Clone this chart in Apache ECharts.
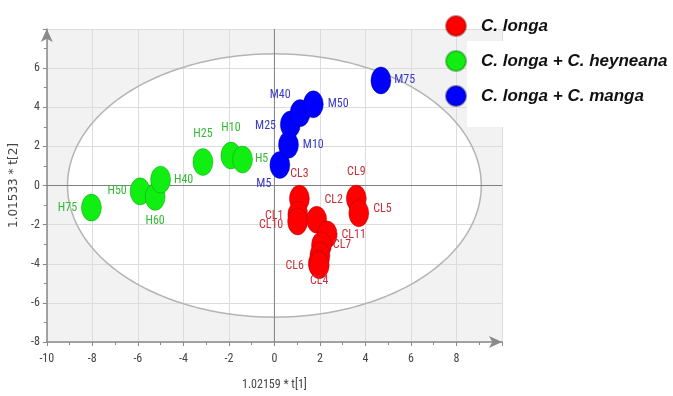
<!DOCTYPE html>
<html><head><meta charset="utf-8">
<script src="https://cdn.jsdelivr.net/npm/echarts@6/dist/echarts.min.js"></script>
<style>html,body{margin:0;padding:0;background:#fff}#c{width:673px;height:396px}</style>
</head><body><div id="c"></div><script>
// ---- data ----
const seriesNames = ['C. longa', 'C. longa + C. heyneana', 'C. longa + C. manga'];

const clNames = ['CL3', 'CL1', 'CL10', 'CL2', 'CL9', 'CL5', 'CL11', 'CL7', 'CL8', 'CL6', 'CL4'];
const clX = [1.10, 1.03, 1.02, 1.86, 3.60, 3.71, 2.32, 2.07, 2.00, 1.93, 1.97];
const clY = [-0.67, -1.50, -1.84, -1.75, -0.67, -1.42, -2.50, -3.05, -3.58, -4.00, -4.08];

const hNames = ['H75', 'H50', 'H60', 'H40', 'H25', 'H10', 'H5'];
const hX = [-8.04, -5.90, -5.24, -5.00, -3.14, -1.91, -1.40];
const hY = [-1.13, -0.30, -0.58, 0.30, 1.20, 1.53, 1.33];

const mNames = ['M5', 'M10', 'M25', 'M40', 'M50', 'M75'];
const mX = [0.24, 0.62, 0.70, 1.13, 1.71, 4.68];
const mY = [1.05, 2.08, 3.12, 3.70, 4.15, 5.37];

const xTickLabels = [-10, -8, -6, -4, -2, 0, 2, 4, 6, 8];
const yTickLabels = [-8, -6, -4, -2, 0, 2, 4, 6];
const ellipseRadii = [9.09, 6.73];   // Hotelling T2 ellipse (t1, t2)

const xAxisTitle = '1.02159 * t[1]';
const yAxisTitle = '1.01533 * t[2]';

// ---- styles ----
const NARROW = '"Roboto Condensed","DejaVu Sans Condensed","Liberation Sans",sans-serif';
const colors = ['#ff0000', '#11ee11', '#0000ff'];
const borderColors = ['rgba(150,0,0,0.45)', 'rgba(0,130,0,0.45)', 'rgba(0,0,120,0.45)'];
const labelColors = ['#c8323c', '#33bb33', '#3a3ac8'];
const labelPlace = {
  H75: {position: 'left'}, H50: {position: 'left', distance: 3}, H60: {position: 'bottom'},
  H40: {position: 'right', distance: 3}, H25: {position: 'top', offset: [0, -4]}, H10: {position: 'top', offset: [0, -4]},
  H5: {position: 'right', distance: 2},
  M5: {position: 'bottom', offset: [-16, -5]}, M10: {position: 'right'}, M25: {position: 'left', offset: [0, 2]},
  M40: {position: 'top', offset: [-20, 6]}, M50: {position: 'right'}, M75: {position: 'right', distance: 3},
  CL3: {position: 'top', offset: [0, -1]}, CL9: {position: 'top', offset: [0, -3]}, CL5: {position: 'right', offset: [0, -4]},
  CL2: {position: 'top', offset: [17, 4]}, CL1: {position: 'left', offset: [0, 1]}, CL10: {position: 'left', offset: [0, 4]},
  CL11: {position: 'right', offset: [0, 1]}, CL7: {position: 'right', offset: [-3, 0]}, CL8: {show: false},
  CL6: {position: 'left', offset: [0, 2]}, CL4: {position: 'bottom', distance: 0, offset: [0, -4]}
};
const ELLIPSE_SYMBOL = 'path://M1,0A1,1,0,1,1,-1,0A1,1,0,1,1,1,0Z';
const MARK_SIZE = [20, 27];

function buildData(names, xs, ys, ci) {
  return names.map((n, i) => ({
    name: n, value: [xs[i], ys[i]],
    label: Object.assign({show: true, formatter: '{b}', color: labelColors[ci], fontSize: 12, fontFamily: NARROW, distance: 4}, labelPlace[n] || {})
  }));
}

const chart = echarts.init(document.getElementById('c'), null, {renderer: 'canvas'});

function ellipsePoints(api) {
  const c = api.coord([0, 0]);
  const rx = api.size([ellipseRadii[0], 0])[0];
  const ry = api.size([0, ellipseRadii[1]])[1];
  const pts = [];
  for (let i = 0; i <= 240; i++) {
    const t = i / 240 * 2 * Math.PI;
    pts.push([c[0] + rx * Math.cos(t), c[1] + ry * Math.sin(t)]);
  }
  return pts;
}

const axisCommon = {
  type: 'value',
  axisLine: {show: true, onZero: false, symbol: ['none', 'arrow'], symbolSize: [9, 13], lineStyle: {color: '#8a8a8a', width: 1.5}},
  axisTick: {show: true, length: 4, lineStyle: {color: '#8a8a8a'}},
  minorTick: {show: true, splitNumber: 2, length: 3, lineStyle: {color: '#8a8a8a'}},
  splitLine: {show: true, lineStyle: {color: '#dcdcdc', width: 1}},
  nameLocation: 'middle'
};

function scatterSeries(k, names, xs, ys) {
  return {name: seriesNames[k], type: 'scatter', z: 2, symbol: ELLIPSE_SYMBOL, symbolSize: MARK_SIZE,
    itemStyle: {color: colors[k], borderColor: borderColors[k], borderWidth: 0.8, opacity: 1},
    data: buildData(names, xs, ys, k)};
}

const option = {
  animation: false,
  backgroundColor: '#ffffff',
  grid: {left: 42, right: 171, top: 29, bottom: 48, containLabel: false},
  xAxis: Object.assign({}, axisCommon, {
    min: xTickLabels[0], max: 10, interval: 2,
    axisLabel: {showMaxLabel: false, color: '#444', fontSize: 12, fontFamily: NARROW, margin: 11,
      formatter: v => xTickLabels.indexOf(v) >= 0 ? String(v) : ''},
    name: xAxisTitle, nameGap: 37,
    nameTextStyle: {color: '#444', fontSize: 12, fontFamily: NARROW}
  }),
  yAxis: Object.assign({}, axisCommon, {
    min: yTickLabels[0], max: 8, interval: 2,
    axisLabel: {showMaxLabel: false, color: '#444', fontSize: 12, fontFamily: NARROW, margin: 7,
      formatter: v => yTickLabels.indexOf(v) >= 0 ? String(v) : ''},
    name: yAxisTitle, nameGap: 21,
    nameTextStyle: {color: '#444', fontSize: 12, fontFamily: '"DejaVu Sans",sans-serif'}
  }),
  legend: {
    data: seriesNames, orient: 'vertical', left: 445, top: 15, padding: 0,
    itemWidth: 20, itemHeight: 24, itemGap: 13,
    textStyle: {fontSize: 17, fontWeight: 'bold', fontStyle: 'italic', color: '#111',
      fontFamily: '"Liberation Sans",Arial,sans-serif', padding: [0, 0, 0, 10]}
  },
  graphic: [{type: 'rect', left: 467, top: 41, shape: {width: 206, height: 86}, style: {fill: '#ffffff'}, z: 3, silent: true}],
  series: [
    {
      type: 'custom', z: -1, silent: true, data: [[0, 0]],
      renderItem: (params, api) => {
        const cs = params.coordSys;
        return {type: 'group', children: [
          {type: 'rect', shape: {x: cs.x, y: cs.y, width: cs.width, height: cs.height}, style: {fill: '#f2f2f2'}},
          {type: 'polygon', shape: {points: ellipsePoints(api)}, style: {fill: '#ffffff'}}
        ]};
      }
    },
    {
      type: 'custom', z: 1, silent: true, data: [[0, 0]],
      renderItem: (params, api) => {
        const cs = params.coordSys;
        const c = api.coord([0, 0]);
        return {type: 'group', children: [
          {type: 'polyline', shape: {points: ellipsePoints(api)}, style: {stroke: '#b4b4b4', lineWidth: 1.5, fill: null}},
          {type: 'line', shape: {x1: cs.x, y1: c[1], x2: cs.x + cs.width, y2: c[1]}, style: {stroke: '#808080', lineWidth: 1}},
          {type: 'line', shape: {x1: c[0], y1: cs.y, x2: c[0], y2: cs.y + cs.height}, style: {stroke: '#808080', lineWidth: 1}}
        ]};
      }
    },
    scatterSeries(0, clNames, clX, clY),
    scatterSeries(1, hNames, hX, hY),
    scatterSeries(2, mNames, mX, mY)
  ]
};
chart.setOption(option);
</script></body></html>
